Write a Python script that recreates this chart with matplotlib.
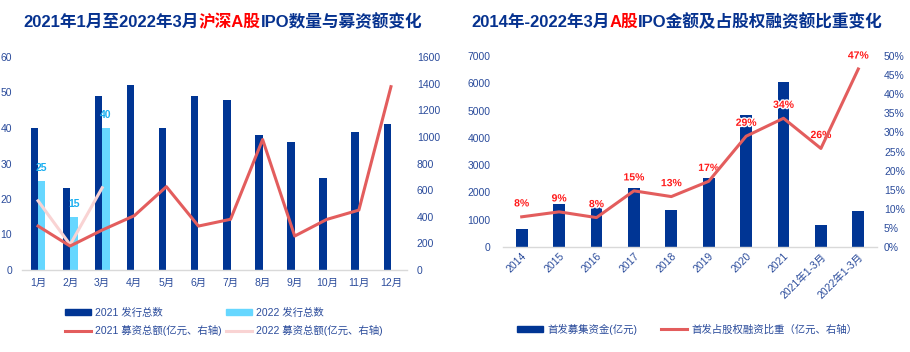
import matplotlib
matplotlib.use("Agg")
import matplotlib.pyplot as plt
import matplotlib.patheffects as pe
from matplotlib.patches import Patch
from matplotlib.lines import Line2D
import numpy as np

plt.rcParams['font.family'] = ['Liberation Sans', 'Noto Sans CJK SC', 'DejaVu Sans']

# ---------------- data ----------------
months = ['1月', '2月', '3月', '4月', '5月', '6月', '7月', '8月', '9月', '10月', '11月', '12月']
count_2021 = [40, 23, 49, 52, 40, 49, 48, 38, 36, 26, 39, 41]
count_2022 = [25, 15, 40]
amount_2021 = [330, 180, 300, 408, 626, 330, 381, 980, 255, 380, 450, 1377]
amount_2022 = [520, 190, 618]

years = ['2014', '2015', '2016', '2017', '2018', '2019', '2020', '2021', '2021年1-3月', '2022年1-3月']
ipo_funds = [660, 1575, 1630, 2180, 1365, 2535, 4830, 6035, 815, 1330]
ipo_share = [7.9, 9.2, 7.7, 14.7, 13.2, 17.2, 29.0, 33.7, 25.8, 46.6]
share_labels = ['8%', '9%', '8%', '15%', '13%', '17%', '29%', '34%', '26%', '47%']

# ---------------- style ----------------
NAVY = '#003594'
LIGHT = '#66D7FF'
RED = '#E35D5D'
PINK = '#F9D3D3'
TICK = '#2A4B9B'
TITLE = '#06328F'
W, H = 910, 352

fig = plt.figure(figsize=(W / 100, H / 100), dpi=100)


def px_axes(left, top, right, bottom):
    return fig.add_axes([left / W, 1 - bottom / H, (right - left) / W, (bottom - top) / H])


def style(ax, twin=False):
    for s in ['top', 'right', 'left']:
        ax.spines[s].set_visible(False)
    ax.spines['bottom'].set_color('#D9D9D9')
    ax.spines['bottom'].set_linewidth(1.0)
    if twin:
        ax.spines['bottom'].set_visible(False)
    ax.tick_params(length=0, colors=TICK, labelsize=7.5)


# ---------------- left chart ----------------
axL = px_axes(22, 57, 407, 270)
style(axL)
x = np.arange(len(months))
bw = 0.23
axL.bar(x - bw / 2, count_2021, width=bw, color=NAVY, zorder=2)
x22 = np.arange(len(count_2022))
axL.bar(x22 + bw / 2, count_2022, width=bw, color=LIGHT, zorder=2)
for xi, v in zip(x22, count_2022):
    axL.text(xi + bw / 2, v + 2.2, str(v), ha='center', va='bottom', color='#1AAEEF',
             fontsize=7.5, fontweight='bold')
axL.set_xlim(-0.5, 11.5)
axL.set_ylim(0, 60)
axL.set_yticks(range(0, 61, 10))
axL.set_xticks(x)
axL.set_xticklabels(months)
axL.tick_params(axis='y', pad=7)
axL.tick_params(axis='x', pad=6)

axL2 = axL.twinx()
style(axL2, twin=True)
axL2.plot(x22, amount_2022, color=PINK, lw=2.2, zorder=3)
axL2.plot(x, amount_2021, color=RED, lw=2.2, zorder=4)
axL2.set_ylim(0, 1600)
axL2.set_yticks(range(0, 1601, 200))
axL2.tick_params(axis='y', pad=7)
axL.set_zorder(axL2.get_zorder() - 1)
axL.patch.set_visible(False)

handlesL = [Patch(color=NAVY), Patch(color=LIGHT),
            Line2D([], [], color=RED, lw=2.2), Line2D([], [], color=PINK, lw=2.2)]
labelsL = ['2021 发行总数', '2022 发行总数', '2021 募资总额(亿元、右轴)', '2022 募资总额(亿元、右轴)']
order = [0, 2, 1, 3]
legL = fig.legend([handlesL[i] for i in order], [labelsL[i] for i in order], ncol=2,
                  loc='center', bbox_to_anchor=(224 / W, 1 - 322 / H), frameon=False,
                  fontsize=7.5, handlelength=2.5, handleheight=0.45, columnspacing=0.4,
                  handletextpad=0.4, labelspacing=0.7, labelcolor=TICK)

# ---------------- right chart ----------------
axR = px_axes(503, 56, 877, 247)
style(axR)
xr = np.arange(len(years))
axR.bar(xr, ipo_funds, width=0.32, color=NAVY, zorder=2)
axR.set_xlim(-0.5, 9.5)
axR.set_ylim(0, 7000)
axR.set_yticks(range(0, 7001, 1000))
axR.set_xticks(xr)
axR.set_xticklabels(years, rotation=45, ha='right', rotation_mode='anchor')
axR.tick_params(axis='y', pad=9)
axR.tick_params(axis='x', pad=3)

axR2 = axR.twinx()
style(axR2, twin=True)
axR2.plot(xr, ipo_share, color=RED, lw=2.2, zorder=4)
for xi, v, lab in zip(xr, ipo_share, share_labels):
    axR2.text(xi, v + 2.2, lab, ha='center', va='bottom', color='#FF1A1A', fontsize=7.5,
              fontweight='bold', path_effects=[pe.withStroke(linewidth=2, foreground='white')])
axR2.set_ylim(0, 50)
axR2.set_yticks(range(0, 51, 5))
axR2.set_yticklabels([f'{v}%' for v in range(0, 51, 5)])
axR2.tick_params(axis='y', pad=5)
axR.set_zorder(axR2.get_zorder() - 1)
axR.patch.set_visible(False)

legR = fig.legend([Patch(color=NAVY), Line2D([], [], color=RED, lw=2.2)],
                  ['首发募集资金(亿元)', '首发占股权融资比重（亿元、右轴）'], ncol=2,
                  loc='center', bbox_to_anchor=(687 / W, 1 - 329 / H), frameon=False,
                  fontsize=7.5, handlelength=2.5, handleheight=0.45, columnspacing=2.3,
                  handletextpad=0.4, labelcolor=TICK)


# ---------------- titles with coloured parts ----------------
def rich_title(parts, cx, cy):
    texts = [fig.text(0, cy / 1, p, color=c, fontsize=12, fontweight='bold',
                      va='center', ha='left', transform=None) for p, c in parts]
    fig.canvas.draw()
    r = fig.canvas.get_renderer()
    widths = [t.get_window_extent(r).width for t in texts]
    total = sum(widths)
    xcur = cx - total / 2
    for t, w in zip(texts, widths):
        t.set_position((xcur, cy))
        xcur += w


rich_title([('2021年1月至2022年3月', TITLE), ('沪深A股', '#FF0000'), ('IPO数量与募资额变化', TITLE)],
           223, H - 22)
rich_title([('2014年-2022年3月', TITLE), ('A股', '#FF0000'), ('IPO金额及占股权融资额比重变化', TITLE)],
           677, H - 22)

fig.savefig('out.png', dpi=100)
